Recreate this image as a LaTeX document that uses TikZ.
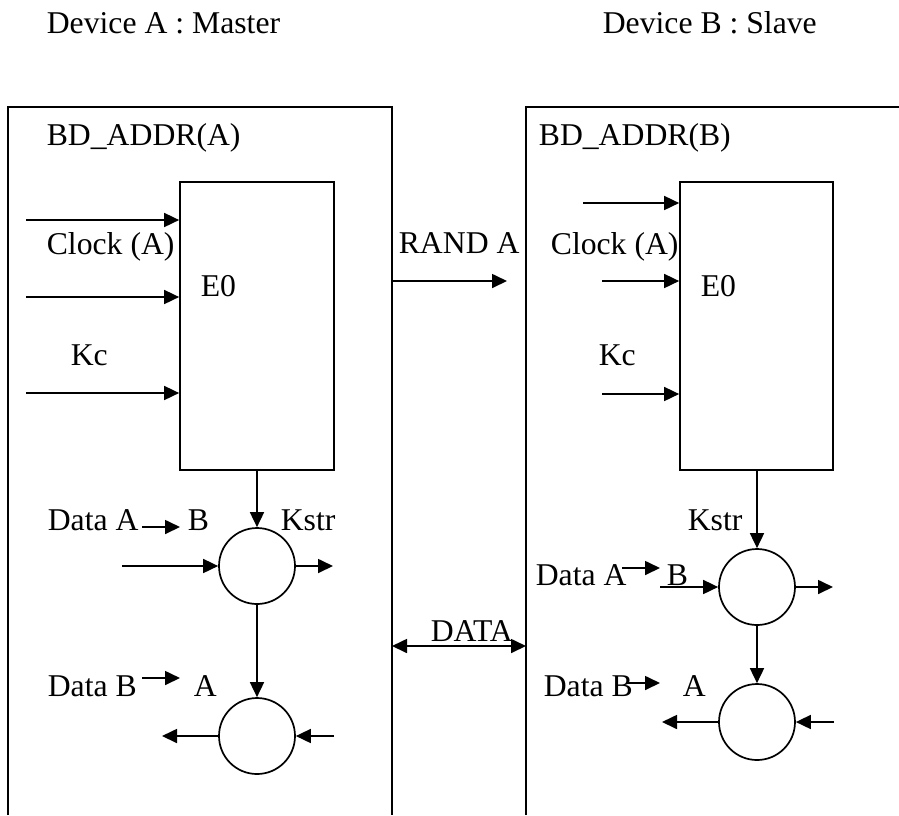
\documentclass[tikz,border=0pt]{standalone}
\usepackage{fontspec}
\setmainfont{Liberation Serif}
\usetikzlibrary{arrows.meta}
\begin{document}
\begin{tikzpicture}[x=1pt,y=-1pt, line width=1.7pt,
 arr/.style={-{Triangle[length=15pt,width=14pt]}},
 dblarr/.style={{Triangle[length=15pt,width=14pt]}-{Triangle[length=15pt,width=14pt]}},
 lbl/.style={anchor=base west, inner sep=0pt, font=\fontsize{31.7}{36}\selectfont},
 blk/.style={draw, rectangle, minimum width=154pt, minimum height=288pt, inner sep=0pt},
 xorc/.style={draw, circle, minimum size=76pt, inner sep=0pt}]
\useasboundingbox (0,0) rectangle (899,815);

% device outlines
\coordinate (la) at (8,815); \coordinate (lb) at (8,107);
\coordinate (lc) at (392,107); \coordinate (ld) at (392,815);
\coordinate (ra) at (526,815); \coordinate (rb) at (526,107);
\coordinate (rc) at (899,107);
\draw (la) -- (lb) -- (lc) -- (ld);
\draw (ra) -- (rb) -- (rc);

% titles
\node[lbl] (tA) at (46,33) {Device A : Master};
\node[lbl] (tB) at (602,33) {Device B : Slave};
\node[lbl] (bdA) at (46,145) {BD\_ADDR(A)};
\node[lbl] (bdB) at (538,145) {BD\_ADDR(B)};

% ---------- Device A ----------
\node[blk] (e0a) at (257,326) {};
\node[lbl] (e0aT) at (200,296) {E0};
\node[lbl] (clkA) at (46,254) {Clock (A)};
\node[lbl] (kcA) at (70,365) {Kc};
\coordinate (ia1) at (26,220);
\coordinate (ia2) at (26,297);
\coordinate (ia3) at (26,393);
\draw[arr] (ia1) -- (ia1 -| e0a.west);
\draw[arr] (ia2) -- (ia2 -| e0a.west);
\draw[arr] (ia3) -- (ia3 -| e0a.west);

\node[xorc] (xa1) at (257,566) {};
\node[xorc] (xa2) at (257,736) {};
\draw[arr] (e0a.south) -- (xa1.north);
\draw[arr] (xa1.south) -- (xa2.north);
\coordinate (xa1in) at (122,566);
\coordinate (xa1out) at (333,566);
\draw[arr] (xa1in) -- (xa1.west);
\draw[arr] (xa1.east) -- (xa1out);
\coordinate (xa2out) at (162,736);
\coordinate (xa2in) at (334,736);
\draw[arr] (xa2.west) -- (xa2out);
\draw[arr] (xa2in) -- (xa2.east);

\node[lbl] (dAa) at (47,530) {Data A};
\node[lbl] (dAb) at (187,530) {B};
\node[lbl] (kstrA) at (280,530) {Kstr};
\coordinate (sa1) at (142,527); \coordinate (sa2) at (180,527);
\draw[arr] (sa1) -- (sa2);
\node[lbl] (dBa) at (47,696) {Data B};
\node[lbl] (dBb) at (193,696) {A};
\coordinate (sb1) at (142,678); \coordinate (sb2) at (180,678);
\draw[arr] (sb1) -- (sb2);

% ---------- between ----------
\node[lbl] (rand) at (398,253) {RAND A};
\coordinate (r1) at (392,281); \coordinate (r2) at (507,281);
\draw[arr] (r1) -- (r2);
\node[lbl] (dataT) at (430,641) {DATA};
\coordinate (d1) at (392,646); \coordinate (d2) at (526,646);
\draw[dblarr] (d1) -- (d2);

% ---------- Device B ----------
\node[blk, minimum width=153pt] (e0b) at (756.5,326) {};
\node[lbl] (e0bT) at (700,296) {E0};
\node[lbl] (clkB) at (550,254) {Clock (A)};
\node[lbl] (kcB) at (598,365) {Kc};
\coordinate (ib1) at (583,203);
\coordinate (ib2) at (602,281);
\coordinate (ib3) at (602,394);
\draw[arr] (ib1) -- (ib1 -| e0b.west);
\draw[arr] (ib2) -- (ib2 -| e0b.west);
\draw[arr] (ib3) -- (ib3 -| e0b.west);

\node[xorc] (xb1) at (757,587) {};
\node[xorc] (xb2) at (757,722) {};
\draw[arr] (e0b.south -| xb1.north) -- (xb1.north);
\draw[arr] (xb1.south) -- (xb2.north);
\coordinate (xb1in) at (660,587);
\coordinate (xb1out) at (833,587);
\draw[arr] (xb1in) -- (xb1.west);
\draw[arr] (xb1.east) -- (xb1out);
\coordinate (xb2out) at (662,722);
\coordinate (xb2in) at (834,722);
\draw[arr] (xb2.west) -- (xb2out);
\draw[arr] (xb2in) -- (xb2.east);

\node[lbl] (kstrB) at (687,530) {Kstr};
\node[lbl] (dAc) at (535,585) {Data A};
\node[lbl] (dAd) at (666,585) {B};
\coordinate (sc1) at (622,568); \coordinate (sc2) at (660,568);
\draw[arr] (sc1) -- (sc2);
\node[lbl] (dBc) at (543,696) {Data B};
\node[lbl] (dBd) at (682,696) {A};
\coordinate (sd1) at (627,683); \coordinate (sd2) at (660,683);
\draw[arr] (sd1) -- (sd2);
\end{tikzpicture}
\end{document}
